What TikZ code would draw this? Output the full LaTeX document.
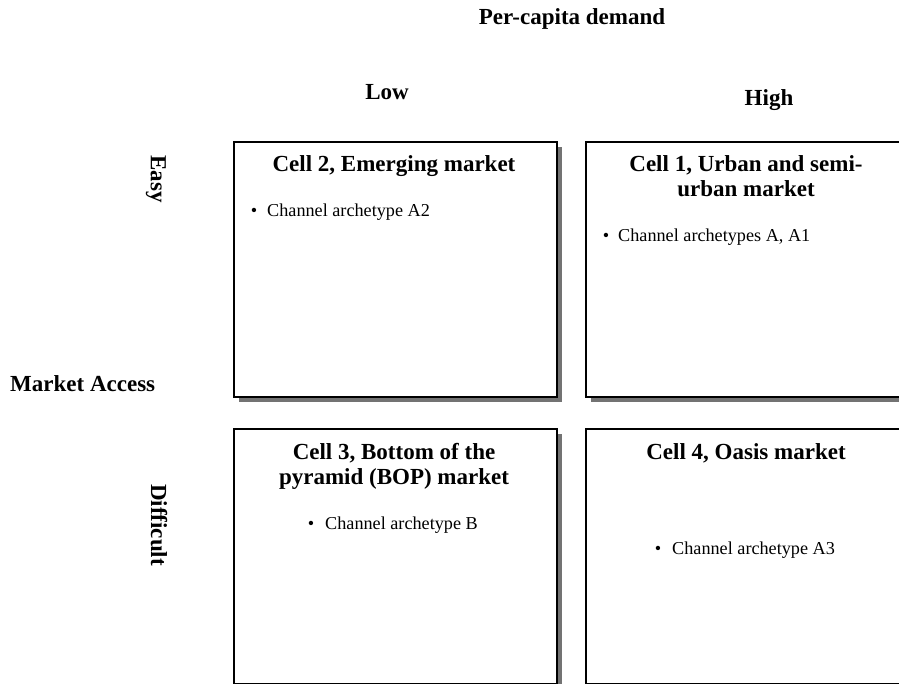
\documentclass[tikz,border=0pt]{standalone}
\usepackage{fontspec}
\setmainfont{Liberation Serif}
\usetikzlibrary{shadows}
\tikzset{
  cellbox/.style={draw=black, line width=1.6pt, fill=white, minimum width=323pt, minimum height=255pt, inner sep=0pt, anchor=north west,
    general shadow={fill=black!55, shadow xshift=5pt, shadow yshift=-5pt}},
  head/.style={inner sep=0pt, anchor=base, font=\fontsize{23}{25}\selectfont\bfseries, align=center},
  item/.style={inner sep=0pt, anchor=base west, font=\fontsize{18.2}{22}\selectfont},
  bul/.style={inner sep=0pt, anchor=base, font=\fontsize{18.2}{22}\selectfont},
}
\begin{document}
\begin{tikzpicture}[x=1pt,y=-1pt]
\clip (0,0) rectangle (899,684);
\fill[white] (0,0) rectangle (899,684);
% axis labels
\node[head] (pcd) at (572,25) {Per-capita demand};
\node[head] (low) at (387,100) {Low};
\node[head] (high) at (769,106) {High};
\node[head, anchor=base west] (ma) at (10,391) {Market Access};
\node[head, anchor=center, rotate=-90] (easy) at (156,179) {Easy};
\node[head, anchor=center, rotate=-90] (diff) at (159,525) {Difficult};
% boxes
\node[cellbox] (c2) at (233,141) {};
\node[cellbox] (c1) at (585,141) {};
\node[cellbox] (c3) at (233,428) {};
\node[cellbox] (c4) at (585,428) {};
% titles
\node[head] (t2) at (394,172) {Cell 2, Emerging market};
\node[head] (t1) at (746,197) {Cell 1, Urban and semi-\\urban market};
\node[head] (t3) at (394,484) {Cell 3, Bottom of the\\pyramid (BOP) market};
\node[head] (t4) at (746,459) {Cell 4, Oasis market};
% bullets
\node[bul] (b2) at (254,217) {\textbullet};
\node[item] (i2) at (267,217) {Channel archetype A2};
\node[bul] (b1) at (606,242) {\textbullet};
\node[item] (i1) at (618,242) {Channel archetypes A, A1};
\node[bul] (b3) at (311,529) {\textbullet};
\node[item] (i3) at (325,529) {Channel archetype B};
\node[bul] (b4) at (658,554) {\textbullet};
\node[item] (i4) at (672,554) {Channel archetype A3};
\end{tikzpicture}
\end{document}
